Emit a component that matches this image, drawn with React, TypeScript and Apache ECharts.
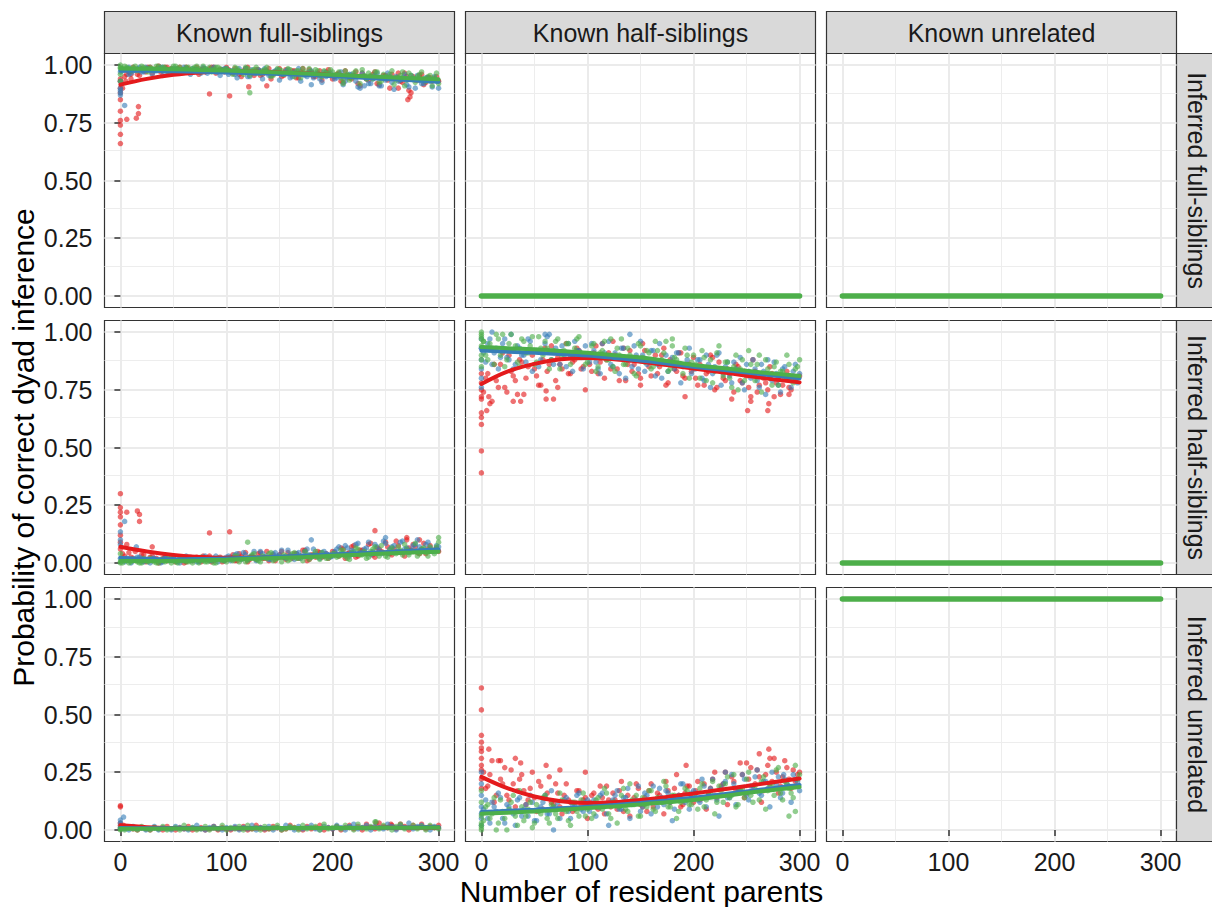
import { useEffect, useRef } from "react";
import * as echarts from "echarts";

const FONT = '"Liberation Sans", Arial, Helvetica, sans-serif';
const RED = "#E41A1C";
const BLUE = "#377EB8";
const GREEN = "#4DAF4A";

const COL_TITLES = ["Known full-siblings", "Known half-siblings", "Known unrelated"];
const ROW_TITLES = ["Inferred full-siblings", "Inferred half-siblings", "Inferred unrelated"];
const X_TITLE = "Number of resident parents";
const Y_TITLE = "Probability of correct dyad inference";

const X_TICKS = [0, 100, 200, 300];
const X_MINOR = [50, 150, 250];
const Y_TICKS = [0, 0.25, 0.5, 0.75, 1];
const Y_MINOR = [0.125, 0.375, 0.625, 0.875];

// x positions of the sampled points (number of resident parents)
const X_PTS = [0,4,8,12,16,20,24,28,32,36,40,44,48,52,56,60,64,68,72,76,80,84,88,92,96,100,104,108,112,116,120,124,128,132,136,140,144,148,152,156,160,164,168,172,176,180,184,188,192,196,200,204,208,212,216,220,224,228,232,236,240,244,248,252,256,260,264,268,272,276,280,284,288,292,296,300];
const X_PTS2 = [2,6,10,14,18,22,26,30,34,38,42,46,50,54,58,62,66,70,74,78,82,86,90,94,98,102,106,110,114,118,122,126,130,134,138,142,146,150,154,158,162,166,170,174,178,182,186,190,194,198,202,206,210,214,218,222,226,230,234,238,242,246,250,254,258,262,266,270,274,278,282,286,290,294,298];
// x positions of the smoothed fits
const X_FIT = [0,25,50,75,100,125,150,175,200,225,250,275,300];
const X_FLAT = [0, 300];

// Known full-siblings / Inferred full-siblings
const RED_FF = [0.93,0.95,0.97,0.99,0.96,0.985,0.97,0.99,0.98,0.995,0.975,0.99,0.985,0.97,0.99,0.98,0.985,0.975,0.99,0.98,0.97,0.985,0.99,0.975,0.98,0.99,
  0.97,0.985,0.96,0.975,0.99,0.965,0.98,0.955,0.975,0.985,0.96,0.97,0.95,0.98,0.965,0.975,0.945,0.985,0.96,0.97,0.95,0.975,0.96,0.98,0.94,
  0.96,0.93,0.975,0.945,0.955,0.92,0.965,0.94,0.95,0.97,0.915,0.955,0.935,0.96,0.945,0.93,0.965,0.89,0.95,0.935,0.96,0.925,0.945,0.94,0.93];
const RED_FF2 = [0.9,0.96,0.94,0.98,0.955,0.975,0.99,0.965,0.985,0.97,0.99,0.98,0.965,0.985,0.975,0.99,0.97,0.98,0.96,0.985,0.975,0.99,0.965,0.98,0.97,
  0.98,0.965,0.975,0.95,0.985,0.97,0.955,0.98,0.96,0.975,0.94,0.97,0.985,0.955,0.965,0.975,0.945,0.97,0.96,0.98,0.95,0.965,0.935,0.97,0.955,
  0.95,0.965,0.925,0.955,0.94,0.97,0.91,0.95,0.935,0.96,0.92,0.945,0.955,0.9,0.94,0.965,0.925,0.95,0.88,0.935,0.955,0.915,0.945,0.93,0.95];
const BLUE_FF = [0.97,0.98,0.99,0.975,0.985,0.97,0.99,0.98,0.975,0.985,0.99,0.97,0.98,0.985,0.975,0.99,0.97,0.985,0.98,0.965,0.985,0.975,0.99,0.97,0.98,0.985,
  0.975,0.96,0.985,0.97,0.95,0.98,0.965,0.975,0.985,0.955,0.97,0.98,0.96,0.975,0.945,0.97,0.985,0.96,0.95,0.975,0.965,0.94,0.97,0.96,0.955,
  0.945,0.97,0.93,0.96,0.95,0.905,0.965,0.94,0.92,0.955,0.91,0.945,0.965,0.925,0.95,0.935,0.96,0.905,0.94,0.955,0.92,0.945,0.93,0.95,0.9];
const BLUE_FF2 = [0.975,0.985,0.965,0.98,0.99,0.97,0.985,0.96,0.975,0.99,0.98,0.965,0.985,0.975,0.97,0.985,0.96,0.98,0.975,0.99,0.965,0.98,0.97,0.955,0.985,
  0.96,0.975,0.945,0.97,0.985,0.95,0.965,0.98,0.94,0.97,0.955,0.975,0.935,0.96,0.98,0.95,0.965,0.93,0.955,0.97,0.945,0.96,0.925,0.95,0.965,
  0.94,0.955,0.915,0.945,0.96,0.93,0.9,0.95,0.92,0.94,0.965,0.91,0.935,0.95,0.895,0.93,0.945,0.915,0.955,0.9,0.935,0.92,0.945,0.905,0.93];
const GREEN_FF = [0.99,0.995,0.985,0.99,0.975,0.995,0.985,0.99,0.98,0.995,0.99,0.975,0.985,0.995,0.99,0.98,0.99,0.985,0.995,0.97,0.985,0.99,0.98,0.99,0.975,0.985,
  0.97,0.99,0.975,0.96,0.985,0.975,0.99,0.965,0.98,0.97,0.955,0.985,0.975,0.965,0.98,0.95,0.975,0.985,0.96,0.97,0.98,0.955,0.975,0.965,0.97,
  0.96,0.945,0.975,0.935,0.965,0.95,0.98,0.94,0.955,0.97,0.925,0.96,0.945,0.975,0.935,0.955,0.91,0.965,0.94,0.95,0.97,0.93,0.955,0.945,0.92];
const GREEN_FF2 = [0.985,0.99,0.975,0.995,0.98,0.99,0.97,0.985,0.995,0.98,0.99,0.975,0.995,0.985,0.98,0.99,0.975,0.99,0.985,0.995,0.98,0.97,0.99,0.985,0.98,
  0.975,0.96,0.985,0.97,0.99,0.955,0.98,0.965,0.975,0.99,0.95,0.97,0.98,0.96,0.985,0.965,0.975,0.945,0.97,0.985,0.96,0.975,0.95,0.965,0.98,
  0.955,0.97,0.935,0.96,0.945,0.975,0.92,0.955,0.965,0.94,0.97,0.93,0.95,0.96,0.915,0.945,0.97,0.935,0.955,0.925,0.96,0.94,0.95,0.91,0.965];
const RED_FF_EXTRA = [[0,0.66],[0,0.7],[0,0.74],[0,0.76],[0,0.8],[0,0.85],[0,0.88],[0,0.9],[0,0.94],[6,0.765],[15,0.77],[17,0.79],[17,0.82],[84,0.875],[103,0.866],[121,0.906],[138,0.91],[5,0.93],[10,0.96],[271,0.85],[273,0.862],[262,0.9]];
const BLUE_FF_EXTRA = [[0,0.87],[0,0.88],[0,0.89],[0,0.9],[0,0.93],[4,0.825],[8,0.96],[40,0.955],[180,0.915],[230,0.91]];
const GREEN_FF_EXTRA = [[0,0.93],[0,0.96],[0,0.985],[122,0.88],[0,1.0],[210,0.92]];
const RED_FF_FIT = [0.915,0.94,0.958,0.968,0.972,0.971,0.968,0.963,0.957,0.95,0.944,0.938,0.932];
const BLUE_FF_FIT = [0.975,0.975,0.973,0.971,0.968,0.965,0.961,0.957,0.952,0.946,0.94,0.934,0.928];
const GREEN_FF_FIT = [0.985,0.984,0.982,0.979,0.976,0.972,0.968,0.963,0.958,0.953,0.948,0.943,0.938];

// Known full-siblings / Inferred half-siblings
const RED_FH = [0.06,0.03,0.045,0.02,0.01,0.035,0.005,0.025,0.015,0.0,0.02,0.01,0.03,0.005,0.015,0.0,0.02,0.01,0.025,0.005,0.015,0.03,0.01,0.02,0.005,0.015,
  0.025,0.01,0.04,0.02,0.005,0.03,0.015,0.045,0.02,0.01,0.035,0.025,0.05,0.015,0.03,0.04,0.02,0.055,0.01,0.035,0.025,0.045,0.03,0.02,0.05,
  0.035,0.065,0.02,0.045,0.075,0.03,0.055,0.04,0.085,0.025,0.06,0.045,0.07,0.035,0.095,0.05,0.03,0.065,0.08,0.045,0.06,0.04,0.075,0.055,0.05];
const RED_FH2 = [0.04,0.08,0.025,0.05,0.015,0.035,0.01,0.03,0.02,0.005,0.025,0.015,0.03,0.01,0.02,0.005,0.025,0.015,0.01,0.03,0.02,0.005,0.015,0.025,0.01,
  0.02,0.035,0.01,0.03,0.045,0.015,0.025,0.04,0.02,0.05,0.03,0.01,0.035,0.025,0.045,0.02,0.04,0.03,0.055,0.015,0.035,0.05,0.025,0.04,0.03,
  0.045,0.03,0.06,0.04,0.07,0.025,0.055,0.045,0.08,0.035,0.065,0.05,0.09,0.04,0.06,0.075,0.045,0.1,0.055,0.07,0.04,0.085,0.06,0.05,0.065];
const BLUE_FH = [0.02,0.005,0.015,0.01,0.025,0.005,0.015,0.0,0.02,0.01,0.005,0.03,0.015,0.01,0.0,0.02,0.025,0.01,0.005,0.015,0.03,0.01,0.02,0.005,0.015,0.025,
  0.01,0.035,0.02,0.045,0.015,0.03,0.01,0.05,0.025,0.015,0.04,0.03,0.055,0.02,0.035,0.015,0.045,0.03,0.06,0.025,0.04,0.02,0.05,0.035,0.03,
  0.06,0.04,0.075,0.03,0.05,0.085,0.045,0.065,0.035,0.08,0.055,0.095,0.04,0.07,0.05,0.09,0.06,0.045,0.075,0.1,0.055,0.08,0.065,0.05,0.07];
const BLUE_FH2 = [0.01,0.02,0.0,0.015,0.025,0.005,0.01,0.02,0.015,0.0,0.025,0.01,0.02,0.005,0.015,0.03,0.01,0.02,0.005,0.025,0.015,0.01,0.03,0.02,0.01,
  0.03,0.02,0.04,0.015,0.035,0.025,0.05,0.02,0.04,0.03,0.015,0.045,0.035,0.025,0.055,0.03,0.04,0.02,0.05,0.035,0.06,0.03,0.045,0.04,0.025,
  0.05,0.07,0.04,0.065,0.055,0.08,0.045,0.06,0.09,0.05,0.07,0.04,0.085,0.06,0.075,0.05,0.095,0.065,0.055,0.08,0.07,0.06,0.09,0.05,0.075];
const GREEN_FH = [0.005,0.01,0.0,0.015,0.005,0.0,0.01,0.02,0.005,0.0,0.015,0.01,0.0,0.005,0.02,0.01,0.005,0.0,0.015,0.025,0.005,0.01,0.0,0.02,0.01,0.005,
  0.015,0.03,0.005,0.02,0.01,0.035,0.015,0.005,0.025,0.04,0.01,0.02,0.005,0.03,0.015,0.045,0.02,0.01,0.035,0.025,0.05,0.015,0.03,0.02,0.04,
  0.025,0.055,0.03,0.015,0.045,0.06,0.035,0.02,0.05,0.07,0.03,0.045,0.025,0.065,0.04,0.055,0.08,0.035,0.05,0.03,0.06,0.045,0.07,0.04,0.09];
const GREEN_FH2 = [0.0,0.01,0.005,0.015,0.0,0.02,0.005,0.01,0.0,0.015,0.005,0.025,0.01,0.0,0.015,0.005,0.01,0.02,0.0,0.01,0.005,0.015,0.0,0.02,0.01,
  0.02,0.01,0.03,0.015,0.005,0.025,0.04,0.01,0.03,0.02,0.045,0.015,0.025,0.035,0.01,0.04,0.02,0.03,0.05,0.015,0.035,0.025,0.045,0.02,0.03,
  0.04,0.03,0.055,0.02,0.045,0.065,0.035,0.05,0.025,0.06,0.04,0.075,0.03,0.055,0.045,0.07,0.035,0.06,0.05,0.085,0.04,0.065,0.03,0.055,0.07];
const RED_FH_EXTRA = [[0,0.3],[0,0.24],[0,0.22],[0,0.2],[0,0.165],[0,0.12],[0,0.09],[16,0.225],[18,0.21],[18,0.18],[6,0.22],[30,0.07],[84,0.13],[103,0.135],[240,0.14],[270,0.11],[282,0.1]];
const BLUE_FH_EXTRA = [[0,0.135],[0,0.1],[0,0.08],[4,0.18],[15,0.07],[180,0.1],[250,0.11]];
const GREEN_FH_EXTRA = [[120,0.09],[0,0.04],[300,0.11],[0,0.0]];
const RED_FH_FIT = [0.07,0.05,0.035,0.026,0.022,0.022,0.025,0.029,0.034,0.039,0.044,0.049,0.054];
const BLUE_FH_FIT = [0.022,0.018,0.016,0.017,0.019,0.023,0.027,0.032,0.037,0.042,0.047,0.053,0.058];
const GREEN_FH_FIT = [0.008,0.008,0.009,0.011,0.014,0.018,0.022,0.026,0.031,0.036,0.041,0.045,0.049];

// Known half-siblings / Inferred half-siblings
const RED_HH = [0.72,0.8,0.69,0.86,0.76,0.91,0.74,0.83,0.79,0.88,0.73,0.85,0.9,0.81,0.77,0.93,0.86,0.71,0.89,0.84,0.95,0.82,0.88,0.92,0.85,0.9,
  0.83,0.94,0.87,0.8,0.91,0.96,0.84,0.89,0.79,0.92,0.86,0.82,0.95,0.88,0.81,0.9,0.85,0.93,0.78,0.87,0.83,0.91,0.8,0.86,0.89,
  0.77,0.85,0.82,0.9,0.75,0.87,0.8,0.84,0.71,0.86,0.79,0.83,0.76,0.88,0.74,0.81,0.78,0.85,0.72,0.8,0.77,0.83,0.75,0.79,0.81];
const RED_HH2 = [0.74,0.82,0.7,0.79,0.86,0.76,0.9,0.81,0.73,0.87,0.8,0.92,0.84,0.77,0.88,0.83,0.94,0.79,0.86,0.91,0.82,0.87,0.93,0.84,0.89,
  0.86,0.91,0.82,0.95,0.88,0.84,0.9,0.79,0.93,0.86,0.83,0.89,0.8,0.92,0.85,0.87,0.82,0.9,0.77,0.88,0.84,0.91,0.81,0.86,0.83,
  0.8,0.86,0.77,0.83,0.89,0.76,0.84,0.79,0.82,0.74,0.85,0.78,0.81,0.72,0.83,0.77,0.8,0.75,0.82,0.78,0.73,0.81,0.76,0.79,0.8];
const BLUE_HH = [0.93,0.87,0.97,0.91,0.84,0.95,0.89,0.99,0.86,0.93,0.9,0.97,0.83,0.92,0.88,0.95,0.99,0.86,0.91,0.94,0.85,0.89,0.96,0.92,0.84,0.9,
  0.95,0.87,0.82,0.91,0.96,0.85,0.89,0.93,0.8,0.88,0.94,0.84,0.9,0.86,0.92,0.81,0.95,0.87,0.83,0.89,0.91,0.78,0.86,0.93,0.84,
  0.88,0.8,0.9,0.76,0.85,0.91,0.82,0.87,0.78,0.84,0.89,0.75,0.83,0.88,0.79,0.86,0.73,0.81,0.87,0.77,0.84,0.8,0.76,0.86,0.82];
const BLUE_HH2 = [0.91,0.95,0.86,0.93,0.89,0.97,0.88,0.84,0.94,0.9,0.87,0.96,0.92,0.85,0.91,0.98,0.88,0.93,0.86,0.9,0.95,0.83,0.92,0.89,0.94,
  0.87,0.92,0.84,0.95,0.89,0.86,0.91,0.82,0.93,0.88,0.85,0.9,0.96,0.83,0.88,0.92,0.86,0.8,0.9,0.87,0.84,0.91,0.85,0.88,0.82,
  0.84,0.88,0.79,0.86,0.82,0.9,0.77,0.85,0.81,0.87,0.83,0.78,0.86,0.8,0.84,0.76,0.83,0.88,0.79,0.82,0.74,0.85,0.8,0.83,0.78];
const GREEN_HH = [0.98,0.9,0.95,0.86,0.97,0.92,0.88,0.99,0.94,0.85,0.96,0.91,0.98,0.87,0.93,0.96,0.84,0.92,0.97,0.89,0.95,0.86,0.93,0.98,0.9,0.87,
  0.94,0.83,0.91,0.96,0.88,0.85,0.93,0.97,0.86,0.9,0.82,0.95,0.89,0.92,0.84,0.96,0.87,0.91,0.83,0.94,0.88,0.86,0.93,0.8,0.9,
  0.85,0.92,0.79,0.88,0.83,0.94,0.81,0.87,0.76,0.9,0.84,0.79,0.92,0.82,0.86,0.74,0.88,0.8,0.85,0.77,0.83,0.9,0.79,0.84,0.88];
const GREEN_HH2 = [0.96,0.88,0.93,0.99,0.9,0.85,0.95,0.92,0.87,0.97,0.91,0.94,0.86,0.98,0.9,0.93,0.88,0.96,0.84,0.92,0.95,0.89,0.97,0.91,0.86,
  0.9,0.95,0.85,0.92,0.88,0.97,0.83,0.9,0.86,0.93,0.89,0.81,0.94,0.87,0.91,0.85,0.92,0.88,0.96,0.84,0.89,0.86,0.82,0.9,0.87,
  0.86,0.8,0.89,0.84,0.78,0.91,0.83,0.87,0.8,0.85,0.75,0.88,0.82,0.86,0.79,0.9,0.81,0.84,0.77,0.87,0.83,0.8,0.86,0.78,0.85];
const RED_HH_EXTRA = [[0,0.39],[0,0.485],[0,0.6],[0,0.63],[0,0.65],[0,0.71],[0,0.75],[0,0.78],[0,0.82],[5,0.66],[7,0.72],[30,0.7],[37,0.7],[61,0.745],[72,0.76],[61,0.71],[98,0.75],[192,0.72],[254,0.7],[251,0.66],[271,0.69],[270,0.66],[290,0.73],[150,0.77]];
const BLUE_HH_EXTRA = [[0,0.76],[0,0.8],[0,0.84],[0,0.88],[0,0.93],[0,0.97],[10,1.0],[60,0.99],[140,0.99]];
const GREEN_HH_EXTRA = [[0,0.85],[0,0.88],[0,0.9],[0,0.94],[0,0.97],[0,0.99],[0,1.0],[2,0.96],[20,0.99],[180,0.97]];
const RED_HH_FIT = [0.775,0.83,0.862,0.882,0.888,0.882,0.871,0.857,0.842,0.827,0.811,0.796,0.782];
const BLUE_HH_FIT = [0.92,0.915,0.91,0.905,0.898,0.888,0.877,0.864,0.85,0.838,0.825,0.812,0.8];
const GREEN_HH_FIT = [0.935,0.93,0.925,0.918,0.91,0.9,0.89,0.875,0.857,0.845,0.832,0.82,0.81];

// Known full-siblings / Inferred unrelated
const RED_FU = [0.02,0.015,0.01,0.005,0.0,0.01,0.005,0.0,0.01,0.005,0.0,0.015,0.005,0.0,0.01,0.005,0.015,0.0,0.005,0.01,0.0,0.005,0.015,0.0,0.01,0.005,
  0.0,0.01,0.005,0.015,0.0,0.005,0.02,0.01,0.0,0.005,0.015,0.01,0.0,0.005,0.02,0.01,0.005,0.0,0.015,0.005,0.01,0.02,0.0,0.01,0.005,
  0.015,0.0,0.01,0.02,0.005,0.015,0.0,0.025,0.01,0.005,0.03,0.015,0.01,0.02,0.005,0.025,0.015,0.0,0.02,0.01,0.025,0.005,0.015,0.01,0.02];
const BLUE_FU = [0.01,0.005,0.0,0.015,0.005,0.01,0.0,0.005,0.015,0.0,0.01,0.005,0.0,0.015,0.01,0.005,0.0,0.01,0.02,0.005,0.0,0.01,0.015,0.005,0.0,0.01,
  0.005,0.015,0.0,0.01,0.005,0.02,0.0,0.01,0.005,0.015,0.0,0.01,0.005,0.02,0.01,0.0,0.015,0.005,0.01,0.02,0.005,0.0,0.015,0.01,0.005,
  0.02,0.01,0.0,0.015,0.025,0.005,0.01,0.02,0.0,0.015,0.01,0.005,0.025,0.015,0.0,0.02,0.01,0.03,0.005,0.015,0.02,0.01,0.0,0.015,0.01];
const GREEN_FU = [0.005,0.0,0.01,0.005,0.0,0.015,0.005,0.0,0.01,0.005,0.015,0.0,0.005,0.01,0.0,0.02,0.005,0.01,0.0,0.005,0.015,0.0,0.01,0.005,0.02,0.0,
  0.01,0.005,0.015,0.0,0.02,0.005,0.01,0.0,0.015,0.005,0.01,0.02,0.0,0.005,0.015,0.01,0.0,0.02,0.005,0.01,0.015,0.0,0.025,0.005,0.01,
  0.015,0.005,0.02,0.01,0.0,0.025,0.01,0.005,0.015,0.035,0.005,0.02,0.01,0.0,0.015,0.025,0.005,0.01,0.02,0.005,0.015,0.0,0.02,0.01,0.005];
const RED_FU_EXTRA = [[0,0.1],[0,0.105],[0,0.03],[3,0.02],[241,0.03],[255,0.025]];
const BLUE_FU_EXTRA = [[0,0.043],[3,0.056],[0,0.03]];
const GREEN_FU_EXTRA = [[241,0.035],[0,0.0],[0,0.01]];
const RED_FU_FIT = [0.02,0.012,0.008,0.007,0.007,0.007,0.008,0.008,0.009,0.009,0.01,0.01,0.011];
const BLUE_FU_FIT = [0.008,0.007,0.007,0.007,0.007,0.008,0.008,0.009,0.009,0.01,0.01,0.011,0.012];
const GREEN_FU_FIT = [0.005,0.005,0.006,0.006,0.007,0.007,0.008,0.008,0.009,0.009,0.01,0.01,0.011];

// Known half-siblings / Inferred unrelated
const RED_HU = [0.28,0.18,0.24,0.12,0.3,0.2,0.15,0.26,0.1,0.22,0.17,0.13,0.25,0.08,0.19,0.14,0.23,0.11,0.16,0.07,0.2,0.12,0.09,0.17,0.13,0.05,
  0.15,0.1,0.19,0.07,0.13,0.16,0.09,0.21,0.11,0.06,0.14,0.18,0.1,0.08,0.2,0.12,0.15,0.07,0.17,0.13,0.24,0.1,0.16,0.19,0.12,
  0.21,0.14,0.09,0.18,0.25,0.15,0.2,0.11,0.23,0.17,0.29,0.14,0.22,0.19,0.26,0.12,0.24,0.2,0.31,0.16,0.23,0.27,0.18,0.21,0.25];
const RED_HU2 = [0.25,0.19,0.3,0.15,0.22,0.27,0.13,0.2,0.17,0.24,0.11,0.18,0.14,0.21,0.09,0.16,0.12,0.2,0.1,0.15,0.13,0.08,0.17,0.11,0.14,
  0.12,0.16,0.09,0.14,0.19,0.1,0.13,0.17,0.08,0.15,0.12,0.2,0.11,0.14,0.17,0.1,0.16,0.13,0.21,0.12,0.18,0.15,0.11,0.19,0.14,
  0.17,0.13,0.2,0.16,0.22,0.14,0.19,0.25,0.15,0.21,0.18,0.24,0.16,0.27,0.2,0.23,0.17,0.28,0.21,0.25,0.19,0.3,0.22,0.26,0.24];
const BLUE_HU = [0.07,0.13,0.03,0.1,0.16,0.05,0.11,0.08,0.02,0.14,0.09,0.06,0.12,0.04,0.1,0.15,0.07,0.0,0.12,0.09,0.14,0.05,0.11,0.16,0.08,0.13,
  0.1,0.06,0.15,0.11,0.02,0.13,0.17,0.09,0.14,0.05,0.12,0.19,0.1,0.15,0.07,0.13,0.18,0.11,0.16,0.04,0.14,0.2,0.12,0.09,0.17,
  0.13,0.22,0.1,0.18,0.15,0.06,0.2,0.14,0.24,0.11,0.17,0.22,0.13,0.19,0.26,0.15,0.21,0.1,0.18,0.23,0.16,0.2,0.12,0.22,0.17];
const BLUE_HU2 = [0.09,0.05,0.12,0.08,0.14,0.03,0.1,0.07,0.13,0.06,0.11,0.15,0.04,0.09,0.12,0.07,0.17,0.1,0.05,0.13,0.08,0.11,0.15,0.09,0.12,
  0.08,0.13,0.1,0.16,0.07,0.12,0.15,0.09,0.14,0.18,0.11,0.13,0.08,0.16,0.12,0.19,0.1,0.14,0.17,0.12,0.09,0.15,0.2,0.13,0.16,
  0.16,0.12,0.19,0.15,0.22,0.13,0.18,0.21,0.14,0.2,0.17,0.24,0.15,0.19,0.23,0.16,0.21,0.18,0.25,0.2,0.14,0.22,0.19,0.24,0.21];
const GREEN_HU = [0.02,0.1,0.05,0.14,0.03,0.08,0.0,0.12,0.06,0.17,0.04,0.09,0.01,0.11,0.07,0.15,0.03,0.1,0.05,0.13,0.08,0.02,0.12,0.06,0.16,0.09,
  0.05,0.13,0.1,0.18,0.07,0.12,0.03,0.15,0.09,0.2,0.11,0.06,0.14,0.1,0.17,0.08,0.13,0.21,0.1,0.15,0.05,0.12,0.18,0.11,0.14,
  0.09,0.2,0.13,0.16,0.07,0.19,0.12,0.23,0.15,0.1,0.18,0.14,0.25,0.12,0.17,0.21,0.09,0.19,0.15,0.27,0.13,0.2,0.16,0.08,0.24];
const GREEN_HU2 = [0.04,0.11,0.07,0.0,0.13,0.05,0.09,0.15,0.02,0.1,0.06,0.12,0.03,0.08,0.14,0.05,0.11,0.07,0.16,0.09,0.04,0.12,0.08,0.13,0.06,
  0.11,0.07,0.14,0.09,0.16,0.05,0.12,0.1,0.18,0.08,0.13,0.15,0.06,0.11,0.17,0.09,0.14,0.12,0.19,0.1,0.15,0.08,0.13,0.17,0.11,
  0.14,0.18,0.1,0.16,0.21,0.12,0.17,0.2,0.14,0.24,0.11,0.18,0.22,0.15,0.19,0.13,0.23,0.17,0.2,0.26,0.16,0.21,0.18,0.14,0.22];
const RED_HU_EXTRA = [[0,0.615],[0,0.52],[0,0.41],[0,0.38],[0,0.355],[0,0.34],[0,0.31],[0,0.26],[0,0.22],[0,0.18],[7,0.35],[18,0.3],[32,0.31],[37,0.29],[61,0.28],[74,0.26],[98,0.25],[193,0.28],[271,0.35],[272,0.31],[250,0.29],[262,0.33]];
const BLUE_HU_EXTRA = [[0,0.25],[0,0.2],[0,0.15],[0,0.1],[0,0.05],[0,0.02],[230,0.25],[285,0.24]];
const GREEN_HU_EXTRA = [[0,0.0],[0,0.03],[0,0.06],[0,0.12],[0,0.17],[0,0.01],[296,0.28],[290,0.06]];
const RED_HU_FIT = [0.23,0.18,0.145,0.124,0.117,0.12,0.13,0.143,0.158,0.174,0.19,0.207,0.223];
const BLUE_HU_FIT = [0.078,0.083,0.088,0.094,0.1,0.108,0.117,0.128,0.14,0.153,0.167,0.181,0.195];
const GREEN_HU_FIT = [0.07,0.075,0.08,0.087,0.095,0.102,0.11,0.12,0.13,0.145,0.16,0.173,0.186];

// Panels where every dyad gets the same answer
const FLAT_HF = [0, 0];
const FLAT_UF = [0, 0];
const FLAT_UH = [0, 0];
const FLAT_UU = [1, 1];

type Cloud = { color: string; ys: number[]; ys2?: number[]; extra: number[][] };
type Fit = { color: string; ys: number[] };
type Panel = { clouds: Cloud[]; fits: Fit[]; flat?: number[] };

const PANELS: Panel[] = [
  { clouds: [
      { color: RED, ys: RED_FF, ys2: RED_FF2, extra: RED_FF_EXTRA },
      { color: BLUE, ys: BLUE_FF, ys2: BLUE_FF2, extra: BLUE_FF_EXTRA },
      { color: GREEN, ys: GREEN_FF, ys2: GREEN_FF2, extra: GREEN_FF_EXTRA }],
    fits: [{ color: RED, ys: RED_FF_FIT }, { color: BLUE, ys: BLUE_FF_FIT }, { color: GREEN, ys: GREEN_FF_FIT }] },
  { clouds: [], fits: [], flat: FLAT_HF },
  { clouds: [], fits: [], flat: FLAT_UF },
  { clouds: [
      { color: RED, ys: RED_FH, ys2: RED_FH2, extra: RED_FH_EXTRA },
      { color: BLUE, ys: BLUE_FH, ys2: BLUE_FH2, extra: BLUE_FH_EXTRA },
      { color: GREEN, ys: GREEN_FH, ys2: GREEN_FH2, extra: GREEN_FH_EXTRA }],
    fits: [{ color: RED, ys: RED_FH_FIT }, { color: BLUE, ys: BLUE_FH_FIT }, { color: GREEN, ys: GREEN_FH_FIT }] },
  { clouds: [
      { color: RED, ys: RED_HH, ys2: RED_HH2, extra: RED_HH_EXTRA },
      { color: BLUE, ys: BLUE_HH, ys2: BLUE_HH2, extra: BLUE_HH_EXTRA },
      { color: GREEN, ys: GREEN_HH, ys2: GREEN_HH2, extra: GREEN_HH_EXTRA }],
    fits: [{ color: RED, ys: RED_HH_FIT }, { color: BLUE, ys: BLUE_HH_FIT }, { color: GREEN, ys: GREEN_HH_FIT }] },
  { clouds: [], fits: [], flat: FLAT_UH },
  { clouds: [
      { color: RED, ys: RED_FU, extra: RED_FU_EXTRA },
      { color: BLUE, ys: BLUE_FU, extra: BLUE_FU_EXTRA },
      { color: GREEN, ys: GREEN_FU, extra: GREEN_FU_EXTRA }],
    fits: [{ color: RED, ys: RED_FU_FIT }, { color: BLUE, ys: BLUE_FU_FIT }, { color: GREEN, ys: GREEN_FU_FIT }] },
  { clouds: [
      { color: RED, ys: RED_HU, ys2: RED_HU2, extra: RED_HU_EXTRA },
      { color: BLUE, ys: BLUE_HU, ys2: BLUE_HU2, extra: BLUE_HU_EXTRA },
      { color: GREEN, ys: GREEN_HU, ys2: GREEN_HU2, extra: GREEN_HU_EXTRA }],
    fits: [{ color: RED, ys: RED_HU_FIT }, { color: BLUE, ys: BLUE_HU_FIT }, { color: GREEN, ys: GREEN_HU_FIT }] },
  { clouds: [], fits: [], flat: FLAT_UU },
];

// layout (pixels)
const COL_LEFT = [104.5, 465.5, 826.5];
const ROW_TOP = [53.5, 320.5, 587.5];
const PANEL_W = 350;
const PANEL_H = 254;
const STRIP = 42;

function buildOption() {
  const grid: any[] = [];
  const xAxis: any[] = [];
  const yAxis: any[] = [];
  const series: any[] = [];

  PANELS.forEach((p, i) => {
    const row = Math.floor(i / 3);
    const col = i % 3;
    grid.push({
      left: COL_LEFT[col], top: ROW_TOP[row], width: PANEL_W, height: PANEL_H,
      show: true, borderColor: "#333333", borderWidth: 1.2, backgroundColor: "transparent",
    });
    xAxis.push({
      type: "value", gridIndex: i, min: -15, max: 315,
      axisLine: { show: false }, splitLine: { show: false },
      axisTick: { show: row === 2, customValues: X_TICKS, length: 6, lineStyle: { color: "#333333", width: 1.5 } },
      axisLabel: { show: row === 2, customValues: X_TICKS, fontSize: 25, color: "#1a1a1a", fontFamily: FONT, margin: 8 },
    });
    yAxis.push({
      type: "value", gridIndex: i, min: -0.05, max: 1.05,
      axisLine: { show: false }, splitLine: { show: false },
      axisTick: { show: col === 0, customValues: Y_TICKS, length: 6, lineStyle: { color: "#333333", width: 1.5 } },
      axisLabel: { show: col === 0, customValues: Y_TICKS, fontSize: 25, color: "#1a1a1a", fontFamily: FONT, margin: 12,
        formatter: (v: number) => v.toFixed(2) },
    });

    const minorStyle = { color: "#EDEDED", width: 1, type: "solid" };
    const majorStyle = { color: "#EBEBEB", width: 2, type: "solid" };
    series.push({
      type: "line", xAxisIndex: i, yAxisIndex: i, data: [], silent: true, z: 0,
      markLine: {
        z: 0, zlevel: 0,
        silent: true, symbol: ["none", "none"], label: { show: false }, emphasis: { disabled: true },
        data: [
          ...X_MINOR.map((v) => ({ xAxis: v, lineStyle: minorStyle })),
          ...Y_MINOR.map((v) => ({ yAxis: v, lineStyle: minorStyle })),
          ...X_TICKS.map((v) => ({ xAxis: v, lineStyle: majorStyle })),
          ...Y_TICKS.map((v) => ({ yAxis: v, lineStyle: majorStyle })),
        ],
      },
    });

    p.clouds.forEach((c) => {
      const data: number[][] = [
        ...c.ys.map((y, k) => [X_PTS[k], y]),
        ...(c.ys2 ? c.ys2.map((y, k) => [X_PTS2[k], y]) : []),
        ...c.extra,
      ];
      series.push({
        type: "scatter", xAxisIndex: i, yAxisIndex: i, silent: true, z: 2,
        symbolSize: 5.5, itemStyle: { color: c.color, opacity: 0.62 },
        data,
      });
    });
    p.fits.forEach((f) => {
      series.push({
        type: "line", xAxisIndex: i, yAxisIndex: i, silent: true, z: 3,
        smooth: 0.4, symbol: "none", showSymbol: false,
        lineStyle: { color: f.color, width: 4, cap: "round" },
        data: f.ys.map((y, k) => [X_FIT[k], y]),
      });
    });
    if (p.flat) {
      series.push({
        type: "line", xAxisIndex: i, yAxisIndex: i, silent: true, z: 3,
        symbol: "none", showSymbol: false,
        lineStyle: { color: GREEN, width: 5.5, cap: "round" },
        data: p.flat.map((y, k) => [X_FLAT[k], y]),
      });
    }
  });

  const graphic: any[] = [];
  COL_TITLES.forEach((t, c) => {
    graphic.push({
      type: "rect", shape: { x: COL_LEFT[c], y: ROW_TOP[0] - STRIP, width: PANEL_W, height: STRIP },
      style: { fill: "#D9D9D9", stroke: "#333333", lineWidth: 1.2 }, silent: true,
    });
    graphic.push({
      type: "text", x: COL_LEFT[c] + PANEL_W / 2, y: ROW_TOP[0] - STRIP / 2, silent: true,
      style: { text: t, fontSize: 25, fontFamily: FONT, fill: "#1a1a1a", align: "center", verticalAlign: "middle" },
    });
  });
  ROW_TITLES.forEach((t, r) => {
    const x0 = COL_LEFT[2] + PANEL_W;
    graphic.push({
      type: "rect", shape: { x: x0, y: ROW_TOP[r], width: STRIP, height: PANEL_H },
      style: { fill: "#D9D9D9", stroke: "#333333", lineWidth: 1.2 }, silent: true,
    });
    graphic.push({
      type: "text", x: x0 + STRIP / 2 - 1, y: ROW_TOP[r] + PANEL_H / 2, rotation: -Math.PI / 2, silent: true,
      style: { text: t, fontSize: 25, fontFamily: FONT, fill: "#1a1a1a", align: "center", verticalAlign: "middle" },
    });
  });
  graphic.push({
    type: "text", x: (COL_LEFT[0] + COL_LEFT[2] + PANEL_W + STRIP) / 2 - 20, y: 891, silent: true,
    style: { text: X_TITLE, fontSize: 30, fontFamily: FONT, fill: "#000000", align: "center", verticalAlign: "middle" },
  });
  graphic.push({
    type: "text", x: 23, y: (ROW_TOP[0] + ROW_TOP[2] + PANEL_H) / 2, rotation: Math.PI / 2, silent: true,
    style: { text: Y_TITLE, fontSize: 30, fontFamily: FONT, fill: "#000000", align: "center", verticalAlign: "middle" },
  });

  return {
    animation: false,
    backgroundColor: "#ffffff",
    textStyle: { fontFamily: FONT },
    grid, xAxis, yAxis, series, graphic,
  };
}

export default function App() {
  const ref = useRef<HTMLDivElement>(null);
  useEffect(() => {
    if (!ref.current) return;
    const chart = echarts.init(ref.current, undefined, { renderer: "svg" });
    chart.setOption(buildOption() as any);
    return () => chart.dispose();
  }, []);
  return (
    <div
      ref={ref}
      style={{ position: "fixed", left: 0, top: 0, width: 1212, height: 907, background: "#fff" }}
    />
  );
}
